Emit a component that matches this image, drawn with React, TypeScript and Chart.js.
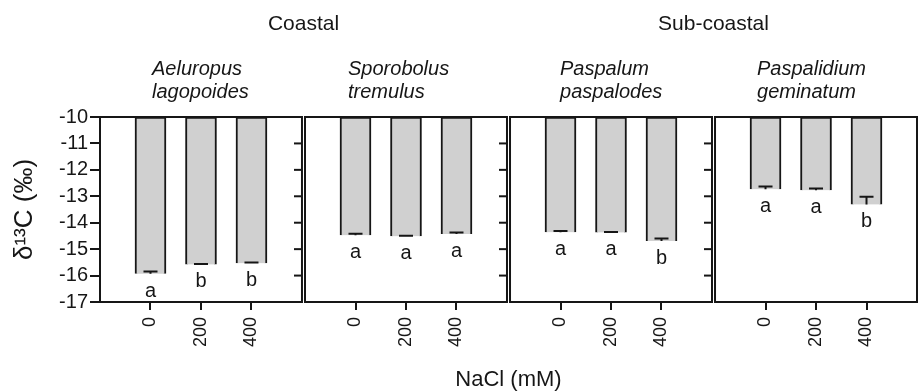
import React, { useEffect, useRef } from 'react';
import { Chart, registerables } from 'chart.js';

Chart.register(...registerables);

// ---------- data ----------
const GROUPS = ['Coastal', 'Sub-coastal'];
const SPECIES_LINE1 = ['Aeluropus', 'Sporobolus', 'Paspalum', 'Paspalidium'];
const SPECIES_LINE2 = ['lagopoides', 'tremulus', 'paspalodes', 'geminatum'];
const NACL_LEVELS = ['0', '200', '400'];

const AELUROPUS_MEAN = [-15.93, -15.58, -15.53];
const AELUROPUS_SE = [0.08, 0.02, 0.02];
const AELUROPUS_LETTERS = ['a', 'b', 'b'];

const SPOROBOLUS_MEAN = [-14.47, -14.51, -14.43];
const SPOROBOLUS_SE = [0.05, 0.02, 0.06];
const SPOROBOLUS_LETTERS = ['a', 'a', 'a'];

const PASPALUM_MEAN = [-14.36, -14.37, -14.69];
const PASPALUM_SE = [0.05, 0.02, 0.09];
const PASPALUM_LETTERS = ['a', 'a', 'b'];

const PASPALIDIUM_MEAN = [-12.73, -12.77, -13.31];
const PASPALIDIUM_SE = [0.1, 0.06, 0.29];
const PASPALIDIUM_LETTERS = ['a', 'a', 'b'];

const Y_TOP = -10;
const Y_BOTTOM = -17;
const Y_TITLE = 'δ¹³C (‰)';
const X_TITLE = 'NaCl (mM)';

// ---------- layout / style ----------
const MEANS = [AELUROPUS_MEAN, SPOROBOLUS_MEAN, PASPALUM_MEAN, PASPALIDIUM_MEAN];
const SES = [AELUROPUS_SE, SPOROBOLUS_SE, PASPALUM_SE, PASPALIDIUM_SE];
const LETTERS = [AELUROPUS_LETTERS, SPOROBOLUS_LETTERS, PASPALUM_LETTERS, PASPALIDIUM_LETTERS];

const PANEL_UNITS = 4;
const PANEL_GAP = 0.06;
const panelStart = (i: number) => i * (PANEL_UNITS + PANEL_GAP);
const X_MAX = panelStart(3) + PANEL_UNITS;
const SPECIES_OFFSET = [52, 43, 50, 42];
const FONT = '"Liberation Sans", Arial, Helvetica, sans-serif';
const INK = '#161616';

const barPoints: { x: number; y: [number, number] }[] = [];
const tickPositions: number[] = [];
MEANS.forEach((arr, p) => {
  arr.forEach((v, k) => {
    barPoints.push({ x: panelStart(p) + k + 1, y: [Y_TOP, v] });
    tickPositions.push(panelStart(p) + k + 1);
  });
});

const facetPlugin = {
  id: 'facetPlugin',
  afterDatasetsDraw(chart: any) {
    const { ctx, chartArea } = chart;
    const xs = chart.scales.x;
    const ys = chart.scales.y;
    const top = chartArea.top;
    const bottom = chartArea.bottom;
    ctx.save();
    ctx.strokeStyle = INK;
    ctx.fillStyle = INK;
    ctx.lineWidth = 2;

    for (let p = 0; p < 4; p++) {
      const l = xs.getPixelForValue(panelStart(p));
      const r = xs.getPixelForValue(panelStart(p) + PANEL_UNITS);
      ctx.strokeRect(l, top, r - l, bottom - top);

      // inward ticks on the right edge of panels 1-3
      if (p < 3) {
        for (let v = Y_TOP - 1; v > Y_BOTTOM; v--) {
          const yy = ys.getPixelForValue(v);
          ctx.beginPath();
          ctx.moveTo(r - 8, yy);
          ctx.lineTo(r, yy);
          ctx.stroke();
        }
      }

      // error bars + letters
      MEANS[p].forEach((m, k) => {
        const cx = xs.getPixelForValue(panelStart(p) + k + 1);
        const y0 = ys.getPixelForValue(m);
        const y1 = ys.getPixelForValue(m + SES[p][k]);
        ctx.beginPath();
        ctx.moveTo(cx, y0);
        ctx.lineTo(cx, y1);
        ctx.moveTo(cx - 7, y1);
        ctx.lineTo(cx + 7, y1);
        ctx.stroke();

        ctx.font = `20px ${FONT}`;
        ctx.textAlign = 'center';
        ctx.textBaseline = 'alphabetic';
        ctx.fillText(LETTERS[p][k], cx, y0 + 23);
      });

      // species names
      ctx.font = `italic 20px ${FONT}`;
      ctx.textAlign = 'left';
      ctx.textBaseline = 'alphabetic';
      ctx.fillText(SPECIES_LINE1[p], l + SPECIES_OFFSET[p], 75);
      ctx.fillText(SPECIES_LINE2[p], l + SPECIES_OFFSET[p], 98);
    }

    // group titles
    ctx.font = `21px ${FONT}`;
    ctx.textAlign = 'center';
    GROUPS.forEach((g, gi) => {
      const l = xs.getPixelForValue(panelStart(gi * 2));
      const r = xs.getPixelForValue(panelStart(gi * 2 + 1) + PANEL_UNITS);
      ctx.fillText(g, (l + r) / 2, 30);
    });
    ctx.restore();
  },
};

export default function App() {
  const ref = useRef<HTMLCanvasElement | null>(null);

  useEffect(() => {
    if (!ref.current) return;
    const chart = new Chart(ref.current, {
      type: 'bar',
      data: {
        datasets: [
          {
            data: barPoints as any,
            backgroundColor: '#d0d0d0',
            borderColor: INK,
            borderWidth: 2,
            borderSkipped: 'top',
            barThickness: 31,
          },
        ],
      },
      options: {
        animation: false,
        responsive: true,
        maintainAspectRatio: false,
        layout: { padding: { top: 117, right: 3, left: 0, bottom: 0 } },
        plugins: { legend: { display: false }, tooltip: { enabled: false } },
        scales: {
          x: {
            type: 'linear',
            min: 0,
            max: X_MAX,
            offset: false,
            afterBuildTicks: (scale: any) => {
              scale.ticks = tickPositions.map((v) => ({ value: v }));
            },
            afterFit: (scale: any) => {
              scale.height = 89;
            },
            ticks: {
              autoSkip: false,
              minRotation: 90,
              maxRotation: 90,
              padding: 7,
              color: INK,
              font: { family: FONT, size: 18 },
              callback: (_v: any, i: number) => NACL_LEVELS[i % NACL_LEVELS.length],
            },
            grid: { offset: false, drawOnChartArea: false, drawTicks: true, tickLength: 8, color: INK, lineWidth: 2 },
            border: { display: false },
            title: {
              display: true,
              text: X_TITLE,
              color: INK,
              font: { family: FONT, size: 22, lineHeight: 1.0 },
              padding: { top: 0, bottom: 0 },
            },
          },
          y: {
            type: 'linear',
            min: Y_BOTTOM,
            max: Y_TOP,
            afterFit: (scale: any) => {
              scale.width = 100;
            },
            ticks: {
              stepSize: 1,
              autoSkip: false,
              padding: 2,
              color: INK,
              font: { family: FONT, size: 20, lineHeight: 1.0 },
            },
            grid: { drawOnChartArea: false, drawTicks: true, tickLength: 10, color: INK, lineWidth: 2 },
            border: { display: false },
            title: {
              display: true,
              text: Y_TITLE,
              color: INK,
              font: { family: FONT, size: 26, lineHeight: 1.0 },
              padding: { top: 12, bottom: 0 },
            },
          },
        },
      },
      plugins: [facetPlugin],
    } as any);
    return () => chart.destroy();
  }, []);

  return (
    <div style={{ position: 'absolute', left: 0, top: 0, width: 920, height: 391, background: '#fff' }}>
      <canvas ref={ref} />
    </div>
  );
}
